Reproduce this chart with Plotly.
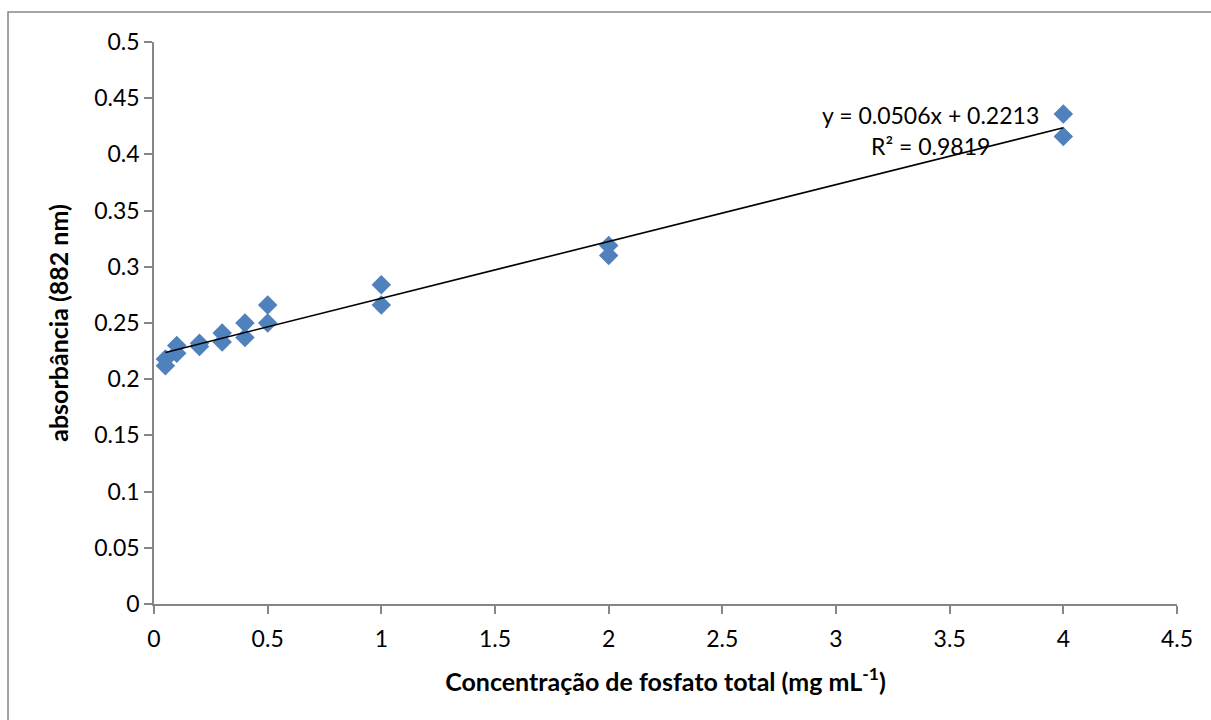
import plotly.graph_objects as go

conc = [0.05, 0.05, 0.1, 0.1, 0.2, 0.2, 0.3, 0.3, 0.4, 0.4, 0.5, 0.5, 1, 1, 2, 2, 4, 4]
absorb = [0.212, 0.218, 0.230, 0.223, 0.232, 0.229, 0.241, 0.233, 0.250, 0.237,
          0.266, 0.250, 0.284, 0.266, 0.319, 0.310, 0.436, 0.416]
slope, intercept, r2 = 0.0506, 0.2213, 0.9819

xt = [0, 0.5, 1, 1.5, 2, 2.5, 3, 3.5, 4, 4.5]
xt_labels = ["0", "0.5", "1", "1.5", "2", "2.5", "3", "3.5", "4", "4.5"]
yt = [0, 0.05, 0.1, 0.15, 0.2, 0.25, 0.3, 0.35, 0.4, 0.45, 0.5]
yt_labels = ["0", "0.05", "0.1", "0.15", "0.2", "0.25", "0.3", "0.35", "0.4", "0.45", "0.5"]

FONT = "Lato"
GRAY = "#868686"

fig = go.Figure()
fit_x = [min(conc), max(conc)]
fit_y = [slope * v + intercept for v in fit_x]
fig.add_trace(go.Scatter(x=conc, y=absorb, mode="markers",
                         marker=dict(symbol="diamond", size=15, color="#4F81BD"),
                         showlegend=False))
fig.add_trace(go.Scatter(x=fit_x, y=fit_y, mode="lines",
                         line=dict(color="black", width=1.6), showlegend=False))

fig.add_annotation(x=3.415, y=0.4355, xref="x", yref="y",
                   text=f"y = {slope}x + {intercept}", showarrow=False,
                   font=dict(family=FONT, size=23, color="black"))
fig.add_annotation(x=3.415, y=0.4075, xref="x", yref="y",
                   text=f"R² = {r2}", showarrow=False,
                   font=dict(family=FONT, size=23, color="black"))

fig.add_shape(type="rect", xref="paper", yref="paper",
              x0=-0.1427, x1=1.2, y0=-0.3, y1=1.0535,
              line=dict(color=GRAY, width=1.5), fillcolor="rgba(0,0,0,0)", layer="below")

fig.update_xaxes(range=[0, 4.5], tickvals=xt, ticktext=xt_labels,
                 showgrid=False, zeroline=False, showline=True, linecolor=GRAY, linewidth=1.5,
                 ticks="outside", ticklen=8, tickcolor=GRAY, tickwidth=1.5,
                 ticklabelstandoff=6,
                 tickfont=dict(family=FONT, size=23, color="black"),
                 title=dict(text="<b>Concentração de fosfato total (mg mL<sup>-1</sup>)</b>",
                            font=dict(family=FONT, size=25, color="black"), standoff=22))
fig.update_yaxes(range=[0, 0.5], tickvals=yt, ticktext=yt_labels,
                 showgrid=False, zeroline=False, showline=True, linecolor=GRAY, linewidth=1.5,
                 ticks="outside", ticklen=8, tickcolor=GRAY, tickwidth=1.5,
                 tickfont=dict(family=FONT, size=23, color="black"),
                 title=dict(text="<b>absorbância (882 nm)</b>",
                            font=dict(family=FONT, size=25, color="black"), standoff=18))

fig.update_layout(width=1211, height=720, plot_bgcolor="white", paper_bgcolor="white",
                  margin=dict(l=154, r=34, t=42, b=116))
fig.write_html("out.html")
